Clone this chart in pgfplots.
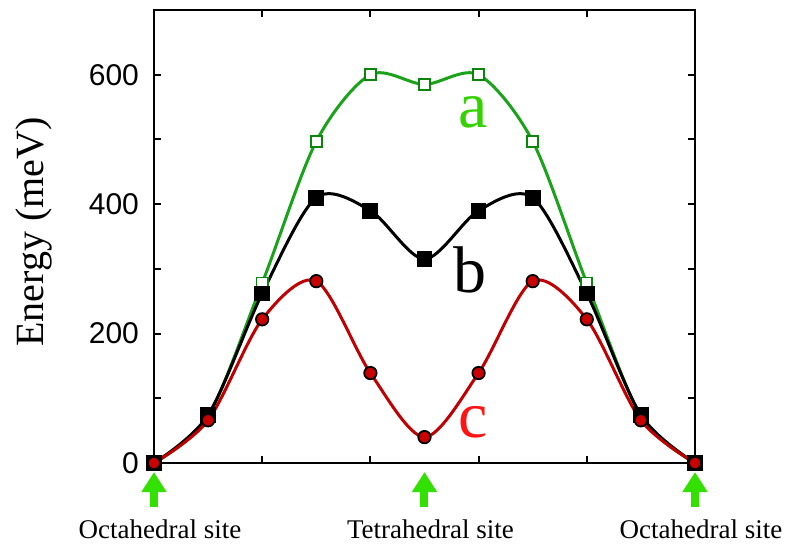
\documentclass[border=0pt]{standalone}
\usepackage{pgfplots}
\pgfplotsset{compat=1.18}
\usepackage{fontspec}
\setmainfont{Liberation Serif}
\newfontfamily\tickfont{Liberation Sans}
\usetikzlibrary{arrows.meta}
\definecolor{gline}{RGB}{26,163,26}
\definecolor{gmark}{RGB}{10,135,10}
\definecolor{glabel}{RGB}{51,210,0}
\definecolor{rline}{RGB}{192,0,0}
\definecolor{rmark}{RGB}{200,0,0}
\definecolor{rlabel}{RGB}{255,20,20}
\definecolor{arrowg}{RGB}{51,225,0}
\begin{document}
\begin{tikzpicture}
\begin{axis}[
  scale only axis,
  width=270.5pt, height=226.5pt,
  xmin=0, xmax=10, ymin=0, ymax=700,
  xtick={2,4,6,8}, xticklabels={},
  ytick={0,200,400,600},
  minor ytick={100,300,500},
  tick align=inside,
  major tick length=3.5pt, minor tick length=3.5pt,
  tick style={line width=1pt, black},
  axis line style={line width=1.2pt},
  /pgf/number format/assume math mode=true,
  yticklabel style={font=\tickfont\fontsize{15}{15}\selectfont, xshift=-4pt},
  ylabel={Energy (meV)},
  ylabel style={font=\fontsize{20}{20}\selectfont, at={(axis description cs:-0.222,0.51)}, anchor=center},
  clip=false,
]
\addplot[gline, line width=1.5pt, smooth, mark=square*, mark size=2.8pt,
  mark options={fill=white, draw=gmark, line width=0.9pt}]
  coordinates {(0,0) (1,72) (2,278) (3,497) (4,600) (5,585) (6,600) (7,497) (8,278) (9,72) (10,0)};
\addplot[black, line width=1.5pt, smooth, mark=square*, mark size=3.2pt,
  mark options={fill=black}]
  coordinates {(0,0) (1,74) (2,262) (3,410) (4,390) (5,315) (6,390) (7,410) (8,262) (9,74) (10,0)};
\addplot[rline, line width=1.5pt, smooth, mark=*, mark size=3.1pt,
  mark options={fill=rmark, draw=black, line width=0.9pt}]
  coordinates {(0,0) (1,66) (2,222) (3,281) (4,139) (5,40) (6,139) (7,281) (8,222) (9,66) (10,0)};
\node[glabel, font=\fontsize{33}{33}\selectfont, inner sep=0pt] at (axis cs:5.9,542) {a};
\node[black, font=\fontsize{33}{33}\selectfont, inner sep=0pt] at (axis cs:5.84,298) {b};
\node[rlabel, font=\fontsize{33}{33}\selectfont, inner sep=0pt] at (axis cs:5.9,63) {c};
\draw[arrowg, line width=4pt, -{Triangle[width=12pt,length=10pt]}] (axis cs:0,-68) -- (axis cs:0,-14);
\draw[arrowg, line width=4pt, -{Triangle[width=12pt,length=10pt]}] (axis cs:5,-68) -- (axis cs:5,-14);
\draw[arrowg, line width=4pt, -{Triangle[width=12pt,length=10pt]}] (axis cs:10,-68) -- (axis cs:10,-14);
\node[anchor=base, font=\fontsize{13.5}{13.5}\selectfont, inner sep=0pt, xshift=3pt] at (axis cs:0,-117.4) {Octahedral site};
\node[anchor=base, font=\fontsize{13.5}{13.5}\selectfont, inner sep=0pt, xshift=3pt] at (axis cs:5,-117.4) {Tetrahedral site};
\node[anchor=base, font=\fontsize{13.5}{13.5}\selectfont, inner sep=0pt, xshift=3pt] at (axis cs:10,-117.4) {Octahedral site};
\end{axis}
\pgfresetboundingbox
\path (-77pt,-41.5pt) rectangle (322.5pt,231.5pt);
\end{tikzpicture}
\end{document}
